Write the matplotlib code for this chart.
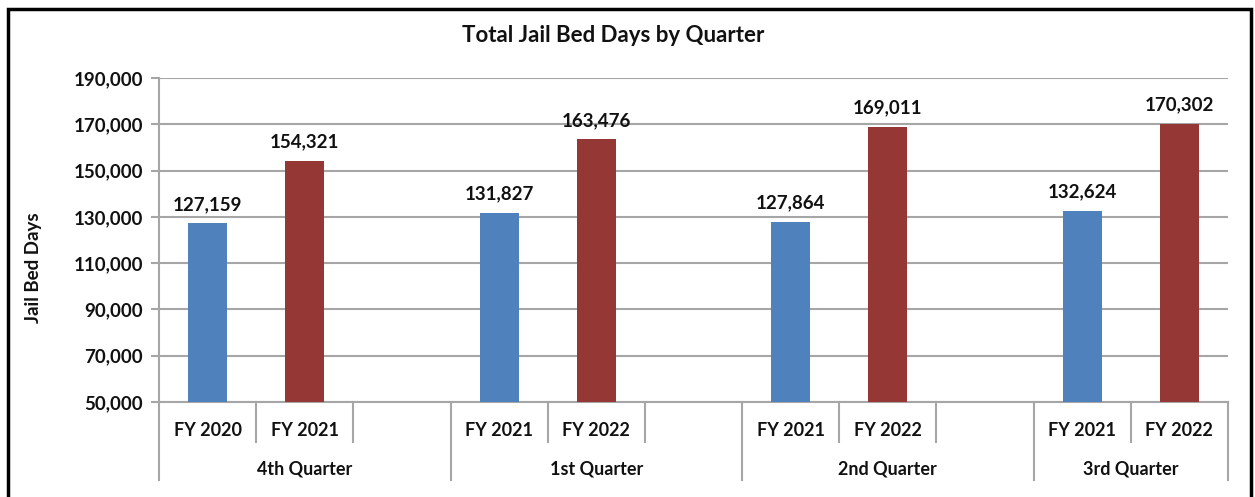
import matplotlib
matplotlib.use("Agg")
import matplotlib.pyplot as plt
from matplotlib.patches import Rectangle

plt.rcParams['font.family'] = ['Lato', 'DejaVu Sans']

quarters = ["4th Quarter", "1st Quarter", "2nd Quarter", "3rd Quarter"]
years = [["FY 2020", "FY 2021"], ["FY 2021", "FY 2022"],
         ["FY 2021", "FY 2022"], ["FY 2021", "FY 2022"]]
values = [[127159, 154321], [131827, 163476], [127864, 169011], [132624, 170302]]
slots_per_quarter = [3, 3, 3, 2]
colors = ["#4F81BD", "#953735"]
yticks = list(range(50000, 190001, 20000))

W, H = 1255, 497
fig = plt.figure(figsize=(W / 100, H / 100), dpi=100)
ax = fig.add_axes([159 / W, 1 - 402 / H, (1228 - 159) / W, (402 - 78) / H])

txt_c = "#111111"
fs = 13.5
grid_c = "#a6a6a6"
total_slots = sum(slots_per_quarter)
ax.set_xlim(0, total_slots)
ax.set_ylim(yticks[0], yticks[-1])
ax.set_yticks(yticks)
ax.set_yticklabels([f"{v:,}" for v in yticks], fontsize=fs, fontweight="bold", color=txt_c)
ax.yaxis.grid(True, color=grid_c, linewidth=1.5)
ax.set_axisbelow(True)
ax.tick_params(axis="y", length=5.5, width=1.5, color=grid_c, pad=6)
ax.tick_params(axis="x", bottom=False, labelbottom=False)
for s in ["top", "right"]:
    ax.spines[s].set_visible(False)
ax.spines["left"].set_color(grid_c)
ax.spines["left"].set_linewidth(1.5)
ax.spines["bottom"].set_color(grid_c)
ax.spines["bottom"].set_linewidth(1.5)

trans = ax.get_xaxis_transform()
px = 1 / (402 - 78)  # one pixel in axes fraction (vertical)
year_sep_bottom = -40 * px
quarter_sep_bottom = -78 * px
year_label_y = -29 * px
quarter_label_y = -67 * px

start = 0
for qi, q in enumerate(quarters):
    n = slots_per_quarter[qi]
    for j, (yr, v) in enumerate(zip(years[qi], values[qi])):
        x = start + j + 0.5
        ax.bar(x, v - yticks[0], bottom=yticks[0], width=0.4, color=colors[j], zorder=3)
        ax.annotate(f"{v:,}", (x, v), xytext=(0, 9.5), textcoords="offset points",
                    ha="center", va="baseline", fontsize=fs, fontweight="bold", color=txt_c)
        ax.text(x, year_label_y, yr, transform=trans, ha="center", va="center",
                fontsize=fs - 0.5, fontweight="bold", color=txt_c)
    for k in range(1, n):
        ax.plot([start + k, start + k], [0, year_sep_bottom], transform=trans,
                color=grid_c, linewidth=1.5, clip_on=False)
    ax.plot([start, start], [0, quarter_sep_bottom], transform=trans,
            color=grid_c, linewidth=1.5, clip_on=False)
    ax.text(start + n / 2, quarter_label_y, q, transform=trans, ha="center", va="center",
            fontsize=fs - 0.5, fontweight="bold", color=txt_c)
    start += n
ax.plot([start, start], [0, quarter_sep_bottom], transform=trans,
        color=grid_c, linewidth=1.5, clip_on=False)

fig.text(33 / W, 1 - 268 / H, "Jail Bed Days", rotation=90, ha="center", va="center",
         fontsize=fs, fontweight="bold", color=txt_c)

fig.text(613 / W, 1 - 35 / H, "Total Jail Bed Days by Quarter", ha="center", va="center",
         fontsize=16, fontweight="bold", color=txt_c)

fig.patches.append(Rectangle((7.5 / W, -0.01), (1251 - 7.5) / W, 1 - 8.5 / H + 0.01,
                             transform=fig.transFigure, fill=False, edgecolor="black",
                             linewidth=2.5))

fig.savefig("out.png", dpi=100)
